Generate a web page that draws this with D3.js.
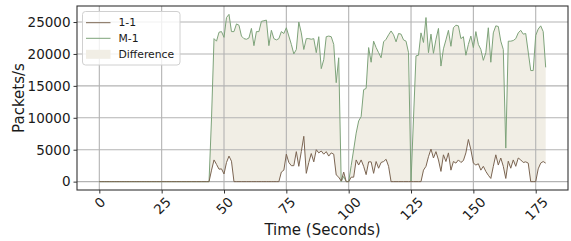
<!DOCTYPE html>
<html>
<head>
<meta charset="utf-8">
<script src="https://cdn.jsdelivr.net/npm/d3@7"></script>
<style>
  body { margin: 0; background: #fff; }
  text { font-family: "DejaVu Sans", sans-serif; fill: #1a1a1a; }
</style>
</head>
<body>
<div id="chart"></div>
<script>
// Data (packets per second, one value per second, t = 0..179)
const seconds = d3.range(180)

const oneToOne = [
    0, 0, 0, 0, 0, 0, 0, 0, 0, 0,
    0, 0, 0, 0, 0, 0, 0, 0, 0, 0,
    0, 0, 0, 0, 0, 0, 0, 0, 0, 0,
    0, 0, 0, 0, 0, 0, 0, 0, 0, 0,
    0, 0, 0, 0, 0, 1800, 3400, 2700, 1950, 2000,
    1200, 3000, 4000, 3200, 0, 0, 0, 0, 0, 0,
    0, 0, 0, 0, 0, 0, 0, 0, 0, 0,
    0, 0, 0, 1500, 1800, 4300, 3000, 2500, 2500, 4700,
    2400, 4700, 7100, 1300, 3000, 4400, 3100, 5000, 4500, 4800,
    4300, 4700, 4000, 4500, 4300, 1050, 700, 100, 1500, 0,
    0, 700, 700, 3400, 2600, 3400, 2400, 1100, 3100, 3100,
    1300, 3150, 2100, 3000, 3150, 3500, 2400, 0, 0, 0,
    0, 0, 0, 0, 0, 0, 0, 0, 0, 0,
    1800, 2400, 3900, 5100, 3700, 4700, 3400, 1600, 4200, 3150,
    4500, 1800, 3150, 2900, 3400, 3000, 3300, 4500, 6600, 5000,
    2900, 2600, 2800, 1800, 2400, 1600, 1000, 500, 2400, 4200,
    2600, 3700, 2400, 500, 3200, 2100, 3400, 2400, 3700, 3400,
    3000, 3100, 2900, 0, 0, 0, 2000, 2900, 3150, 2900
]

const manyToOne = [
    0, 0, 0, 0, 0, 0, 0, 0, 0, 0,
    0, 0, 0, 0, 0, 0, 0, 0, 0, 0,
    0, 0, 0, 0, 0, 0, 0, 0, 0, 0,
    0, 0, 0, 0, 0, 0, 0, 0, 0, 0,
    0, 0, 0, 0, 0, 10000, 22400, 22000, 23400, 23500,
    22600, 25700, 26200, 23500, 23500, 24700, 24500, 22800, 22400, 22300,
    22500, 24000, 21300, 23500, 23500, 25100, 25200, 25300, 21300, 23700,
    22400, 22200, 22400, 23500, 23200, 24100, 22800, 21500, 20000, 20700,
    25000, 23300, 20700, 22400, 22400, 22300, 22400, 20200, 22700, 17700,
    19100, 22700, 22800, 22700, 21500, 15500, 19400, 0, 800, 0,
    0, 2500, 5000, 7600, 9500, 10200, 14400, 14600, 21000, 18700,
    22000, 21000, 20200, 19400, 21900, 22300, 23000, 23600, 23000, 21900,
    23200, 23100, 22200, 22000, 20200, 0, 10000, 19700, 19800, 23300,
    21800, 25700, 20200, 23100, 20100, 22300, 24000, 18100, 20800, 22200,
    23700, 21200, 24100, 24500, 24400, 22400, 22700, 19800, 21500, 22800,
    21000, 23500, 21500, 20700, 19000, 20200, 24100, 18700, 23300, 24400,
    24300, 22000, 20700, 5250, 22000, 22000, 22100, 22400, 23300, 23700,
    23100, 23200, 20300, 17400, 17400, 22900, 23900, 24400, 23500, 17900
]

const xTicks = [0, 25, 50, 75, 100, 125, 150, 175]
const yTicks = [0, 5000, 10000, 15000, 20000, 25000]
const legendLabels = ['1-1', 'M-1', 'Difference']

// Dimension
const dimension = {
    width: 571,
    height: 241,
    margin: { top: 6, bottom: 51, left: 77, right: 3 }
}
dimension.ctrwidth = dimension.width - dimension.margin.left - dimension.margin.right
dimension.ctrheight = dimension.height - dimension.margin.top - dimension.margin.bottom

const colors = { one: '#7b6552', many: '#7ea37a', fill: '#f1eee5', grid: '#b3b3b3', axis: '#333' }

const svg = d3.select('#chart')
    .append('svg')
    .attr('width', dimension.width)
    .attr('height', dimension.height)

const ctr = svg.append('g')
    .attr('transform', `translate(${dimension.margin.left}, ${dimension.margin.top})`)

// Scales (matplotlib style 5% margins)
const xMin = 0, xMax = 179, yMin = 0, yMax = d3.max(manyToOne)
const xPad = (xMax - xMin) * 0.05
const yPad = (yMax - yMin) * 0.05
const xScale = d3.scaleLinear()
    .domain([xMin - xPad, xMax + xPad])
    .range([0, dimension.ctrwidth])
const yScale = d3.scaleLinear()
    .domain([yMin - yPad, yMax + yPad])
    .range([dimension.ctrheight, 0])

// Difference area
const area = d3.area()
    .x(i => xScale(seconds[i]))
    .y0(i => yScale(oneToOne[i]))
    .y1(i => yScale(manyToOne[i]))

ctr.append('path')
    .datum(seconds.map((d, i) => i))
    .attr('d', area)
    .attr('fill', colors.fill)

// Grid
ctr.append('g')
    .selectAll('line')
    .data(xTicks)
    .join('line')
    .attr('x1', d => xScale(d)).attr('x2', d => xScale(d))
    .attr('y1', 0).attr('y2', dimension.ctrheight)
    .attr('stroke', colors.grid)
    .attr('stroke-width', 1.1)

ctr.append('g')
    .selectAll('line')
    .data(yTicks)
    .join('line')
    .attr('y1', d => yScale(d)).attr('y2', d => yScale(d))
    .attr('x1', 0).attr('x2', dimension.ctrwidth)
    .attr('stroke', colors.grid)
    .attr('stroke-width', 1.1)

// Lines
const line = (values) => d3.line()
    .x((d, i) => xScale(seconds[i]))
    .y(d => yScale(d))(values)

ctr.append('path')
    .attr('d', line(manyToOne))
    .attr('fill', 'none')
    .attr('stroke', colors.many)
    .attr('stroke-width', 1)

ctr.append('path')
    .attr('d', line(oneToOne))
    .attr('fill', 'none')
    .attr('stroke', colors.one)
    .attr('stroke-width', 1)

// Axes
const yAxis = d3.axisLeft(yScale)
    .tickValues(yTicks)
    .tickSize(3.5)
    .tickPadding(3)
    .tickFormat(d3.format('d'))

const yAxisGroup = ctr.append('g').call(yAxis)
yAxisGroup.select('.domain').remove()
yAxisGroup.selectAll('line').attr('stroke', colors.axis)
yAxisGroup.selectAll('text')
    .style('font-size', '13.5px')
    .style('font-family', '"DejaVu Sans", sans-serif')
    .attr('fill', '#1a1a1a')

const xAxis = d3.axisBottom(xScale)
    .tickValues(xTicks)
    .tickSize(3.5)
    .tickFormat(d => d)

const xAxisGroup = ctr.append('g')
    .attr('transform', `translate(0, ${dimension.ctrheight})`)
    .call(xAxis)
xAxisGroup.select('.domain').remove()
xAxisGroup.selectAll('line').attr('stroke', colors.axis)
xAxisGroup.selectAll('text')
    .style('font-size', '13.5px')
    .style('font-family', '"DejaVu Sans", sans-serif')
    .attr('fill', '#1a1a1a')
    .attr('dy', null)
    .attr('y', 0)
    .attr('text-anchor', 'middle')
    .attr('dominant-baseline', 'central')
    .attr('transform', function () {
        const w = this.getComputedTextLength()
        const h = 13.5 * 0.73
        const half = (w + h) / 2 * Math.SQRT1_2
        return `translate(0, ${6 + half}) rotate(-45)`
    })

// Frame
ctr.append('rect')
    .attr('width', dimension.ctrwidth)
    .attr('height', dimension.ctrheight)
    .attr('fill', 'none')
    .attr('stroke', colors.axis)
    .attr('stroke-width', 1.1)

// Axis labels
svg.append('text')
    .attr('x', dimension.margin.left + dimension.ctrwidth / 2)
    .attr('y', 235)
    .attr('text-anchor', 'middle')
    .style('font-size', '15px')
    .text('Time (Seconds)')

svg.append('text')
    .attr('transform', `translate(24, ${dimension.margin.top + dimension.ctrheight / 2}) rotate(-90)`)
    .attr('text-anchor', 'middle')
    .style('font-size', '15px')
    .text('Packets/s')

// Legend
const legend = svg.append('g').attr('transform', 'translate(82.5, 11.5)')
legend.append('rect')
    .attr('width', 97.5)
    .attr('height', 53.5)
    .attr('rx', 3)
    .attr('fill', 'white')
    .attr('fill-opacity', 0.8)
    .attr('stroke', '#d0d0d0')

const rows = [11.2, 26.8, 42.8]
legend.append('line')
    .attr('x1', 3.5).attr('x2', 28).attr('y1', rows[0]).attr('y2', rows[0])
    .attr('stroke', colors.one)
legend.append('line')
    .attr('x1', 3.5).attr('x2', 28).attr('y1', rows[1]).attr('y2', rows[1])
    .attr('stroke', colors.many)
legend.append('rect')
    .attr('x', 3.5).attr('y', rows[2] - 4.5).attr('width', 24.5).attr('height', 9)
    .attr('fill', colors.fill)

legend.selectAll('text.lab')
    .data(legendLabels)
    .join('text')
    .attr('class', 'lab')
    .attr('x', 36)
    .attr('y', (d, i) => rows[i])
    .attr('dominant-baseline', 'central')
    .style('font-size', '10.8px')
    .text(d => d)
</script>
</body>
</html>
